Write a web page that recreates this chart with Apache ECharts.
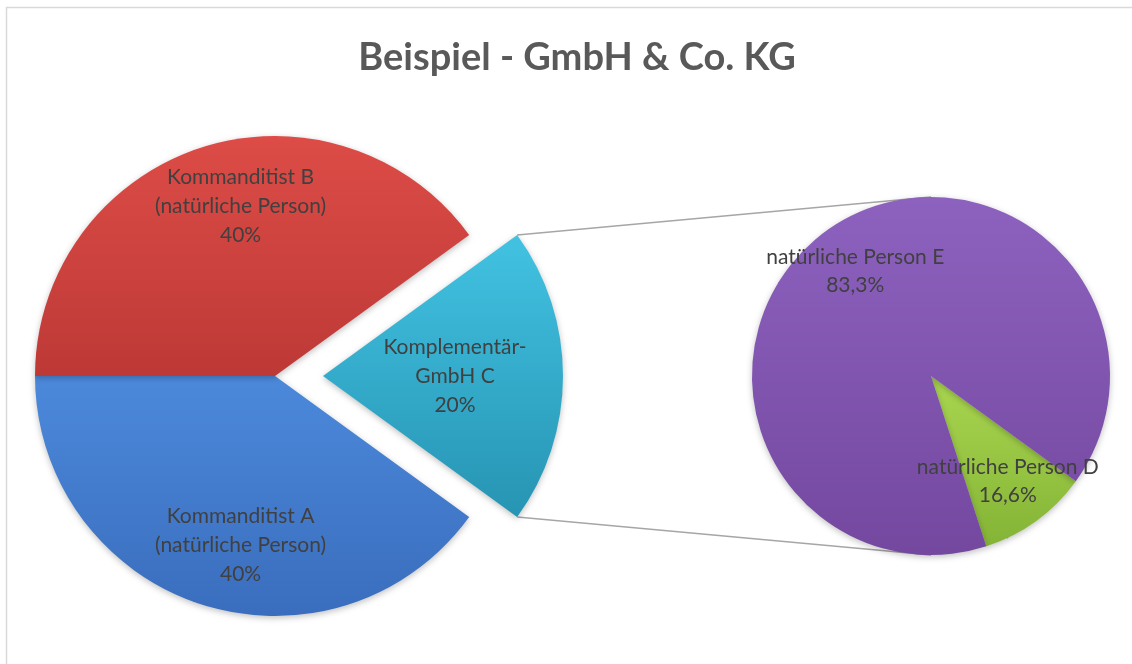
<!DOCTYPE html>
<html>
<head>
<meta charset="utf-8">
<script src="https://cdn.jsdelivr.net/npm/echarts@6/dist/echarts.min.js"></script>
<style>
  html, body { margin: 0; padding: 0; background: #fff; }
  #main { width: 1132px; height: 664px; }
</style>
</head>
<body>
<div id="main"></div>
<script>
// Hauptkreis: Anteile an der KG
var mainNames = ['Komplementär-\nGmbH C', 'Kommanditist A\n(natürliche Person)', 'Kommanditist B\n(natürliche Person)'];
var mainValues = [20, 40, 40];
var mainPercents = ['20%', '40%', '40%'];

// Zweiter Kreis: Gesellschafter der Komplementär-GmbH
var subNames = ['natürliche Person D', 'natürliche Person E'];
var subValues = [10, 90];
var subPercents = ['16,6%', '83,3%'];

// Layout
var leftCenter = [275, 376], leftR = 240, explode = 48;
var rightCenter = [931, 376], rightR = 179;
var mainTotal = mainValues.reduce(function (a, b) { return a + b }, 0);
var subTotal = subValues.reduce(function (a, b) { return a + b }, 0);
var mainStart = mainValues[0] / mainTotal * 180; // C mittig nach rechts
var subStart = -36;
var mainLabelR = [0.55, 0.72, 0.72];
var mainLabelShift = [0, 6.5, -6.5];
var subLabelR = [0.73, 0.72];

function grad(top, bottom) {
  return new echarts.graphic.LinearGradient(0, 0, 0, 1, [
    { offset: 0, color: top },
    { offset: 1, color: bottom }
  ])
}
var mainColors = [grad('#42c2e2', '#2794b3'), grad('#4c89db', '#3a6dbd'), grad('#dd4c47', '#bd3936')];
var subColors = [grad('#aad650', '#84b436'), grad('#8d62bf', '#74489f')];

function midAngle(values, total, start, i) {
  var cum = 0;
  for (var k = 0; k < i; k++) cum += values[k];
  return start - (cum + values[i] / 2) / total * 360;
}

var myChart = echarts.init(document.getElementById('main'));

// Verbindungslinien von den Ecken des Segments C zum zweiten Kreis
var half = mainValues[0] / mainTotal * Math.PI;
var cx = leftCenter[0] + explode, cy = leftCenter[1];
var topCorner = [cx + leftR * Math.cos(half), cy - leftR * Math.sin(half)];
var botCorner = [cx + leftR * Math.cos(half), cy + leftR * Math.sin(half)];

var option = {
  animation: false,
  backgroundColor: '#fff',
  title: {
    text: 'Beispiel - GmbH & Co. KG',
    left: 572,
    textAlign: 'center',
    top: 34,
    textStyle: { fontFamily: 'Lato', fontWeight: 'bold', fontSize: 38, color: '#595959' }
  },
  graphic: [
    { type: 'rect', shape: { x: 6.5, y: 7.5, width: 1200, height: 800 }, style: { fill: 'none', stroke: '#d9d9d9', lineWidth: 1.5 }, silent: true },
    { type: 'line', shape: { x1: topCorner[0], y1: topCorner[1], x2: rightCenter[0], y2: rightCenter[1] - rightR }, style: { stroke: '#a6a6a6', lineWidth: 1.5 }, silent: true },
    { type: 'line', shape: { x1: botCorner[0], y1: botCorner[1], x2: rightCenter[0], y2: rightCenter[1] + rightR }, style: { stroke: '#a6a6a6', lineWidth: 1.5 }, silent: true }
  ],
  series: [
    {
      type: 'pie',
      center: leftCenter,
      radius: leftR,
      startAngle: mainStart,
      clockwise: true,
      selectedMode: 'single',
      selectedOffset: explode,
      avoidLabelOverlap: false,
      emphasis: { scale: false },
      itemStyle: { shadowBlur: 6, shadowColor: 'rgba(0,0,0,0.25)', shadowOffsetY: 2 },
      label: {
        position: 'inside',
        fontFamily: 'Lato',
        fontSize: 21,
        lineHeight: 29,
        color: '#404040',
        align: 'center',
        formatter: function (p) { return p.name + '\n' + mainPercents[p.dataIndex] }
      },
      labelLayout: function (p) {
        var i = p.dataIndex;
        // das herausgezogene Segment behält die Standardposition, nur leicht verschoben
        if (i === 0) return { dx: 9 };
        var a = (midAngle(mainValues, mainTotal, mainStart, i) + mainLabelShift[i]) * Math.PI / 180;
        var r = leftR * mainLabelR[i];
        return { x: leftCenter[0] + r * Math.cos(a), y: leftCenter[1] - r * Math.sin(a), align: 'center', verticalAlign: 'middle' };
      },
      data: mainNames.map(function (n, i) {
        return { name: n, value: mainValues[i], selected: i === 0, itemStyle: { color: mainColors[i] } }
      })
    },
    {
      type: 'pie',
      center: rightCenter,
      radius: rightR,
      startAngle: subStart,
      clockwise: true,
      avoidLabelOverlap: false,
      emphasis: { scale: false },
      itemStyle: { shadowBlur: 6, shadowColor: 'rgba(0,0,0,0.25)', shadowOffsetY: 2 },
      label: {
        position: 'inside',
        fontFamily: 'Lato',
        fontSize: 21,
        lineHeight: 28,
        color: '#404040',
        align: 'center',
        formatter: function (p) { return p.name + '\n' + subPercents[p.dataIndex] }
      },
      labelLayout: function (p) {
        var i = p.dataIndex;
        var a = midAngle(subValues, subTotal, subStart, i) * Math.PI / 180;
        var r = rightR * subLabelR[i];
        return { x: rightCenter[0] + r * Math.cos(a), y: rightCenter[1] - r * Math.sin(a), align: 'center', verticalAlign: 'middle' };
      },
      data: subNames.map(function (n, i) {
        return { name: n, value: subValues[i], itemStyle: { color: subColors[i] } }
      })
    }
  ]
};
myChart.setOption(option);
</script>
</body>
</html>
